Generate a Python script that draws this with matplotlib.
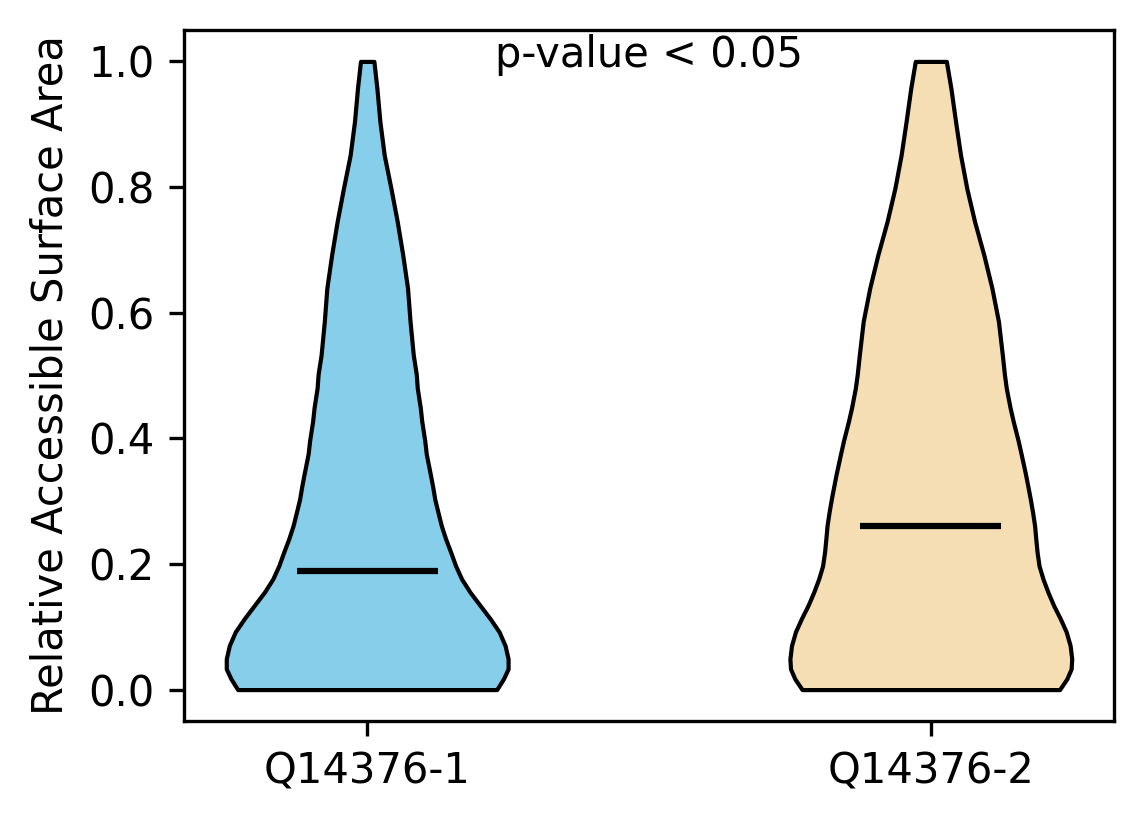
import numpy as np
import matplotlib
matplotlib.use("Agg")
import matplotlib.pyplot as plt

# isoforms compared
labels = ["Q14376-1", "Q14376-2"]
colors = ["skyblue", "wheat"]

# density profile of each violin, rsa value -> relative density
rsa_1 = [0.0, 0.017, 0.033, 0.049, 0.070, 0.092, 0.113, 0.134, 0.155, 0.176,
         0.197, 0.219, 0.240, 0.261, 0.282, 0.303, 0.322, 0.343, 0.375, 0.396,
         0.427, 0.449, 0.480, 0.502, 0.533, 0.586, 0.639, 0.692, 0.745, 0.798,
         0.851, 0.904, 0.957, 1.0]
dens_1 = [129.3, 136, 140.7, 140.7, 137.7, 131.7, 122.7, 112.7, 102.7, 94.3,
          88.3, 83.3, 78.3, 74, 70.7, 67.5, 65.5, 63, 59, 57.5,
          54.5, 53, 50, 49, 46, 42.8, 40.3, 35.5, 30, 23.7,
          17, 12.7, 9.7, 6.7]

rsa_2 = [0.0, 0.017, 0.033, 0.049, 0.070, 0.092, 0.113, 0.134, 0.155, 0.176,
         0.197, 0.219, 0.240, 0.261, 0.282, 0.303, 0.322, 0.343, 0.375, 0.396,
         0.427, 0.449, 0.480, 0.502, 0.533, 0.586, 0.639, 0.692, 0.745, 0.798,
         0.851, 0.904, 0.957, 1.0]
dens_2 = [130, 137.3, 141.7, 142.3, 140.7, 136.7, 130.7, 124, 118.3, 113.3,
          109.3, 107.3, 106, 104.8, 102.8, 100.5, 98.2, 95.6, 91.2, 88.2,
          83.2, 80, 76.2, 74.3, 72.2, 68.3, 61.7, 53.5, 44.2, 36.3,
          30, 25, 20.3, 15.7]

means = [0.188, 0.261]


def make_stats(coords, vals, mean):
    coords = np.array(coords)
    return {"coords": coords, "vals": np.array(vals), "mean": mean,
            "median": mean, "min": coords.min(), "max": coords.max()}


stats = [make_stats(rsa_1, dens_1, means[0]),
         make_stats(rsa_2, dens_2, means[1])]

fig = plt.figure(figsize=(1144 / 300, 824 / 300), dpi=300)
ax = fig.add_axes([184 / 1144, 103 / 824, 930 / 1144, 691 / 824])

parts = ax.violin(stats, positions=[1, 2], widths=0.5,
                  showmeans=True, showextrema=False)
for body, c in zip(parts["bodies"], colors):
    body.set_facecolor(c)
    body.set_edgecolor("black")
    body.set_linewidth(1.0)
    body.set_alpha(1)
parts["cmeans"].set_color("black")
parts["cmeans"].set_linewidth(1.5)

ax.set_xticks([1, 2])
ax.set_xticklabels(labels)
ax.set_xlim(0.675, 2.325)
ax.set_ylim(-0.05, 1.05)
ax.set_ylabel("Relative Accessible Surface Area")
ax.text(1.5, 1.01, "p-value < 0.05", ha="center", va="center")

fig.savefig("out.png", dpi=300)
